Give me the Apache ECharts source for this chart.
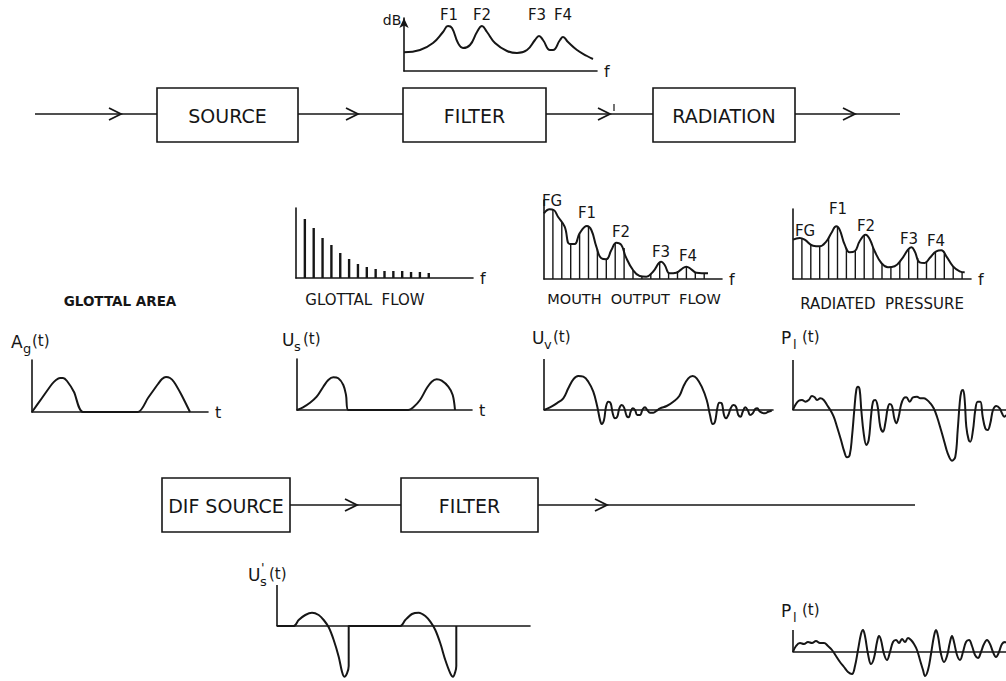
<!DOCTYPE html>
<html>
<head>
<meta charset="utf-8">
<title>Source–filter model of speech production</title>
<script src="https://cdn.jsdelivr.net/npm/echarts@6/dist/echarts.min.js"></script>
<style>
  html, body { margin: 0; padding: 0; background: #ffffff; }
  #chart { width: 1006px; height: 681px; }
</style>
</head>
<body>
<div id="chart"></div>
<script>
// ---------------------------------------------------------------------------
// Data: each curve as [x, y] pairs in its own plot units
// (frequency or time along x, level or amplitude along y).
// ---------------------------------------------------------------------------

// Vocal-tract transfer function (dB vs f)
const filterResponse = [
  [0, 18.7], [16, 21], [29, 28], [39, 39], [44, 45], [48, 43], [54, 28], [59, 23],
  [66, 26], [73, 39], [78, 45], [83, 39], [91, 28], [103, 20], [113, 18], [123, 21],
  [131, 31], [135, 35], [139, 31], [146, 21], [149, 21], [156, 31], [159, 34],
  [164, 29], [173, 21], [183, 15], [189, 12]
];
const formantNames = ['F1', 'F2', 'F3', 'F4'];
const spectrumNames = ['FG', 'F1', 'F2', 'F3', 'F4'];

// Glottal flow line spectrum: amplitude of harmonics 1..15
const glottalHarmonics = [59, 50, 40, 33, 25, 19, 14, 11, 9, 7, 7, 7, 6, 6, 5];

// Mouth output flow: spectral envelope and harmonics 1..18
const mouthEnvelope = [
  [0, 65.7], [0.64, 69.7], [1.09, 69], [1.57, 62.3], [2.32, 52.3], [2.88, 35], [3.45, 35],
  [4.0, 45.7], [4.83, 53], [5.32, 49], [5.88, 32.3], [6.44, 20.7], [7.0, 19.7], [7.57, 29],
  [8.13, 36.3], [8.69, 34], [9.18, 22.3], [10.0, 9], [10.75, 3], [11.5, 2.3], [12.25, 7.3],
  [13.18, 17.3], [13.56, 14], [14.12, 5.7], [14.87, 6.3], [15.43, 9.7], [15.99, 12.3],
  [16.55, 9.7], [17.12, 6.3], [18.43, 5.7]
];
const mouthHarmonics = [69, 57, 35, 46, 52, 30, 20, 35, 31, 9, 3, 5, 16, 7, 8, 12, 7, 6];

// Radiated pressure: spectral envelope and harmonics 1..19
const radiatedEnvelope = [
  [0, 39.3], [0.75, 41], [1.31, 39.3], [2.25, 33.3], [3.0, 32.7], [3.75, 37.7], [4.31, 46],
  [4.87, 52.7], [5.24, 49.3], [5.81, 34.3], [6.37, 26.7], [6.93, 27.7], [7.49, 37.7],
  [8.16, 44.3], [8.61, 40], [9.18, 27.7], [9.93, 16], [10.67, 11.7], [11.42, 12.7],
  [12.17, 19.3], [12.92, 29.3], [13.3, 31.7], [13.67, 27.7], [14.23, 16.7], [14.79, 16],
  [15.36, 21], [16.1, 27.7], [16.67, 28.7], [17.23, 22.7], [17.98, 12.7], [18.73, 7.7],
  [19.29, 6.7]
];
const radiatedHarmonics = [40, 34, 33, 41, 52, 31, 28, 43, 32, 16, 12, 18, 31, 21, 18, 27, 25, 13, 7];

// Glottal area Ag(t)
const glottalArea = [
  [0, 0], [10, 14], [20, 28], [24, 32], [28, 34], [31, 34], [35, 31], [42, 20], [51, 0],
  [106, 0], [116, 14], [126, 28], [130, 33], [134, 35], [138, 34], [142, 30], [149, 18], [158, 0]
];

// Glottal flow Us(t)
const glottalFlow = [
  [0, 0], [6, 2.7], [13, 7.3], [19.7, 13.3], [26.3, 23.3], [31.3, 30], [36.3, 32.7],
  [41.3, 31.7], [46.3, 25], [49, 15], [51.3, 0],
  [111.3, 0], [116.3, 2.7], [123, 10], [129.7, 21.7], [134.7, 28.3], [139.7, 30.7],
  [144.7, 29.3], [151.3, 23.3], [155.7, 15], [158, 0]
];

// Mouth output flow Uv(t)
const mouthFlow = [
  [0, 0], [6, 2.7], [12.7, 6.7], [19.3, 11.7], [24.3, 21.7], [29.3, 30.7], [34.3, 34],
  [39.3, 33.3], [44.3, 28.3], [49.3, 18.3], [53.3, 3.3], [56, -10], [57.7, -14], [60, -10],
  [62, 3.3], [64.3, 8.3], [66.7, 6.7], [68.7, -3.3], [71, -8.3], [73.3, -6.7], [75.3, 1.7],
  [77.7, 5], [80, 2.7], [82.7, -6], [84.7, -7.3], [86.7, -1.7], [88.7, 1.7], [91, 0],
  [93.3, -5], [96, -5], [98.7, 0.7], [101, 2.7], [103.3, 0], [106, -2.7], [109.3, -2.7],
  [112.7, -0.7], [116, 1.7], [122.7, 4], [129.3, 8.3], [135.3, 14], [139.3, 23.3],
  [144.3, 31.7], [148.7, 34], [152.7, 31.7], [157.7, 23.3], [162.7, 10], [166, -5],
  [168.7, -14], [171, -11.7], [173.3, 1.7], [175.3, 7.3], [177.7, 6.7], [180, -5],
  [182, -8.3], [184.3, -5], [186.7, 1.7], [189.3, 5], [192, 3.3], [194.3, -5], [196.7, -6.7],
  [198.7, -1.7], [201.3, 2.7], [204, -0.7], [206, -5], [208.7, -3.3], [211, 0.7],
  [213.3, 1.7], [216, -1.7], [221, -3.3], [224.3, -1.7], [227.7, -0.7]
];

// Radiated pressure at the lips Pl(t)
const lipPressure = [
  [0, 0], [2.3, 5], [5.7, 9.3], [9, 10], [12.3, 8.3], [15.7, 10], [19, 14], [21.7, 12.7],
  [24, 10], [27.3, 11.7], [30.7, 10], [34, 5], [37.3, 0], [40.7, -6.7], [44, -16.7],
  [48, -30], [51.3, -41.7], [54, -47.3], [56.7, -45], [59, -26.7], [61.3, 0], [63.3, 20],
  [65, 23.3], [66.7, 20], [68.3, 0], [70.7, -23.3], [73.3, -35], [75.7, -30], [78, -6.7],
  [80, 8.3], [82.3, 10], [84.7, 3.3], [87.3, -16.7], [90, -21.7], [92.3, -13.3], [94.7, 1.7],
  [96.7, 6], [99, 4], [101.3, -8.3], [103.3, -13.3], [105.7, -6.7], [108, 5], [110.7, 11.7],
  [113.3, 12.7], [116.7, 8.3], [120, 12.7], [124, 13.3], [127.3, 11.7], [130.7, 11.7],
  [134, 10], [137.3, 6.7], [140.7, 1.7], [144, -6.7], [148, -20], [151.3, -31.7],
  [154.7, -43.3], [159, -50.7], [162.3, -46.7], [164.7, -20], [166.7, 6.7], [168.3, 18.3],
  [170, 20], [171.7, 10], [173.3, -16.7], [175.7, -30], [177.3, -31.7], [180, -20],
  [182.3, 0], [184.7, 8.3], [187.3, 8.3], [189.7, -6.7], [192.3, -18.3], [194.7, -20],
  [197.3, -13.3], [200, 0], [203.3, 4], [206.7, 1.7], [209, -3.3], [211.3, -6.7], [213, -5]
];

// Differentiated glottal flow U's(t)
const flowDerivative = [
  [0, 0], [16.7, 0], [21.7, 6], [28.3, 11], [35, 13.3], [41.7, 11], [46.7, 6], [51.7, -1.3],
  [56.7, -14], [61.7, -30.7], [65, -45.7], [67.3, -50.7], [70, -47.3], [71.7, -40], [71.7, 0],
  [123.3, 0], [128.3, 6], [135, 12], [141.7, 13.3], [148.3, 10], [153.3, 4.3], [158.3, -4],
  [163.3, -17.3], [168.3, -34], [173.3, -47.3], [176, -50.7], [178.3, -45.7], [179.3, -40],
  [179.3, 0]
];

// Radiated pressure from the differentiated source
const lipPressureDif = [
  [0, 0], [3, 6], [7, 9], [11, 8], [15, 10], [19, 9], [23, 11], [27, 9], [31, 9], [35, 6],
  [39, 2], [43, -4], [47, -10], [51, -15], [55, -20], [59, -22], [62, -14], [65, 2], [68, 18],
  [70, 22], [72, 16], [75, -2], [78, -12], [81, -6], [84, 10], [86, 16], [88, 12], [91, -2],
  [94, -8], [97, 0], [100, 10], [103, 12], [106, 9], [109, 13], [112, 10], [115, 14],
  [118, 12], [121, 8], [124, 2], [127, -8], [130, -18], [132, -24], [135, -18], [138, -2],
  [141, 16], [143, 22], [145, 16], [148, -2], [151, -10], [154, -4], [157, 10], [159, 16],
  [161, 10], [164, -3], [167, -8], [170, 0], [173, 10], [176, 12], [179, 6], [182, -3],
  [185, -6], [188, 0], [191, 8], [194, 12], [197, 8], [200, 0], [203, -5], [206, 0],
  [209, 8], [212, 10], [213, 9]
];

// ---------------------------------------------------------------------------
// Layout and styling
// ---------------------------------------------------------------------------
const INK = '#161616';
const FONT = '"DejaVu Sans", "Liberation Sans", sans-serif';

// Plot frames in pixels plus axis ranges
const plots = {
  db:       { x: 404, y: 18,  w: 193, h: 53,  xr: [0, 193], yr: [0, 53],   xName: 'f' },
  glotSpec: { x: 296, y: 208, w: 177, h: 70,  xr: [0, 20],  yr: [0, 70],   xName: 'f' },
  mouthSpec:{ x: 544, y: 200, w: 178, h: 79,  xr: [0, 20],  yr: [0, 79],   xName: 'f' },
  radSpec:  { x: 793, y: 209, w: 178, h: 70,  xr: [0, 20],  yr: [0, 70],   xName: 'f' },
  area:     { x: 32,  y: 360, w: 176, h: 52,  xr: [0, 176], yr: [0, 52],   xName: 't' },
  flow:     { x: 297, y: 359, w: 175, h: 51,  xr: [0, 175], yr: [0, 51],   xName: 't' },
  mouth:    { x: 544, y: 359, w: 229, h: 71,  xr: [0, 229], yr: [-20, 51], signed: true },
  lips:     { x: 793, y: 360, w: 213, h: 105, xr: [0, 213], yr: [-55, 50], signed: true },
  deriv:    { x: 277, y: 585, w: 253, h: 96,  xr: [0, 253], yr: [-55, 41], signed: true },
  lips2:    { x: 793, y: 630, w: 213, h: 50,  xr: [0, 213], yr: [-28, 22], signed: true }
};

const grid = [], xAxis = [], yAxis = [], series = [];
const index = {};

Object.keys(plots).forEach(function (key, i) {
  const p = plots[key];
  index[key] = i;
  grid.push({ left: p.x, top: p.y, width: p.w, height: p.h, containLabel: false, outerBoundsMode: 'none' });
  xAxis.push({
    type: 'value', gridIndex: i, min: p.xr[0], max: p.xr[1],
    axisLine: { show: true, onZero: true, lineStyle: { color: INK, width: 1.6 } },
    axisTick: { show: false }, axisLabel: { show: false }, splitLine: { show: false },
    name: p.xName || '', nameLocation: 'end', nameGap: 7,
    nameTextStyle: { color: INK, fontFamily: FONT, fontSize: 16, verticalAlign: 'middle', padding: [0, 0, 4, 0] }
  });
  yAxis.push({
    type: 'value', gridIndex: i, min: p.yr[0], max: p.yr[1],
    axisLine: {
      show: !p.signed, onZero: false,
      symbol: key === 'db' ? ['none', 'arrow'] : ['none', 'none'],
      symbolSize: [7, 10],
      lineStyle: { color: INK, width: 1.6 }
    },
    axisTick: { show: false }, axisLabel: { show: false }, splitLine: { show: false }
  });
});

function curve(key, data, smooth) {
  const p = plots[key];
  const s = {
    type: 'line', xAxisIndex: index[key], yAxisIndex: index[key], data: data,
    smooth: smooth, symbol: 'none', showSymbol: false, silent: true,
    lineStyle: { color: INK, width: 2 }
  };
  if (p.signed) {
    // vertical axis drawn only above the time axis
    s.markLine = {
      silent: true, symbol: ['none', 'none'], label: { show: false },
      lineStyle: { color: INK, width: 1.6, type: 'solid' },
      data: [[{ coord: [0, 0] }, { coord: [0, p.yr[1]] }]]
    };
  }
  series.push(s);
}

function harmonics(key, values, width) {
  series.push({
    type: 'bar', xAxisIndex: index[key], yAxisIndex: index[key],
    data: values.map(function (v, k) { return [k + 1, v]; }),
    barWidth: width, silent: true, itemStyle: { color: INK }
  });
}

curve('db', filterResponse, 0.45);
harmonics('glotSpec', glottalHarmonics, 2.4);
harmonics('mouthSpec', mouthHarmonics, 1.4);
curve('mouthSpec', mouthEnvelope, 0.45);
harmonics('radSpec', radiatedHarmonics, 1.4);
curve('radSpec', radiatedEnvelope, 0.45);
curve('area', glottalArea, 0.25);
curve('flow', glottalFlow, 0.35);
curve('mouth', mouthFlow, 0.4);
curve('lips', lipPressure, 0.4);
curve('deriv', flowDerivative, 0.3);
curve('lips2', lipPressureDif, 0.4);

// ---------------------------------------------------------------------------
// Block diagram and annotations
// ---------------------------------------------------------------------------
const graphic = [];

function text(str, x, y, size, opts) {
  opts = opts || {};
  const font = (opts.weight || 'normal') + ' ' + size + 'px ' + FONT;
  graphic.push({
    type: 'text', x: x, y: y, silent: true,
    style: {
      text: str, font: font, fill: INK,
      align: opts.align || 'center', verticalAlign: 'middle',
      textAlign: opts.align || 'center', textVerticalAlign: 'middle'
    }
  });
}
function box(x, y, w, h, label) {
  graphic.push({
    type: 'rect', silent: true, shape: { x: x, y: y, width: w, height: h },
    style: { fill: 'none', stroke: INK, lineWidth: 1.6 }
  });
  text(label, x + w / 2, y + h / 2 + 1, 19);
}
function line(points, width) {
  graphic.push({
    type: 'polyline', silent: true, shape: { points: points },
    style: { fill: 'none', stroke: INK, lineWidth: width || 1.6 }
  });
}
function chevron(tipX, y) {
  line([[tipX - 12, y - 6], [tipX, y], [tipX - 12, y + 6]], 1.8);
}
// label of the form  Base(sub)(t), optionally with a prime
function signalLabel(base, sub, x, y, prime) {
  text(base, x, y, 17, { align: 'left' });
  if (prime) text("'", x + 13, y - 8, 13, { align: 'left' });
  text(sub, x + 12, y + 6, 13, { align: 'left' });
  text('(t)', x + 21, y - 1, 15, { align: 'left' });
}

// top chain
line([[35, 114], [157, 114]]);
chevron(121, 114);
box(157, 88, 141, 54, 'SOURCE');
line([[298, 114], [403, 114]]);
chevron(358, 114);
box(403, 88, 143, 54, 'FILTER');
line([[546, 114], [653, 114]]);
chevron(610, 114);
line([[614, 104], [614, 111]], 1.2);
box(653, 88, 142, 54, 'RADIATION');
line([[795, 114], [900, 114]]);
chevron(855, 114);

// bottom chain
box(162, 478, 128, 54, 'DIF SOURCE');
line([[290, 505], [401, 505]]);
chevron(357, 505);
box(401, 478, 137, 54, 'FILTER');
line([[538, 505], [915, 505]]);
chevron(607, 505);

// filter response labels
text('dB', 392, 20, 14, { align: 'center' });
const formantPos = [[449, 15], [482, 15], [537, 15], [563, 15]];
formantNames.forEach(function (n, i) { text(n, formantPos[i][0], formantPos[i][1], 15); });

// spectrum labels
const mouthLabelPos = [[552, 201], [587, 213], [621, 232], [661, 252], [688, 256]];
const radLabelPos = [[805, 231], [838, 209], [866, 226], [909, 239], [936, 241]];
spectrumNames.forEach(function (n, i) {
  text(n, mouthLabelPos[i][0], mouthLabelPos[i][1], 15);
  text(n, radLabelPos[i][0], radLabelPos[i][1], 15);
});

text('GLOTTAL  FLOW', 365, 300, 15);
text('MOUTH  OUTPUT  FLOW', 634, 299, 14.5);
text('RADIATED  PRESSURE', 882, 304, 15);
text('GLOTTAL AREA', 120, 301, 13.5, { weight: 'bold' });

signalLabel('A', 'g', 11, 342, false);
signalLabel('U', 's', 282, 340, false);
signalLabel('U', 'v', 532, 338, false);
signalLabel('P', 'l', 781, 338, false);
signalLabel('U', 's', 248, 575, true);
signalLabel('P', 'l', 781, 611, false);

const chart = echarts.init(document.getElementById('chart'), null, { renderer: 'svg', width: 1006, height: 681 });
chart.setOption({
  backgroundColor: '#ffffff',
  animation: false,
  grid: grid,
  xAxis: xAxis,
  yAxis: yAxis,
  series: series,
  graphic: { elements: graphic }
});
</script>
</body>
</html>
